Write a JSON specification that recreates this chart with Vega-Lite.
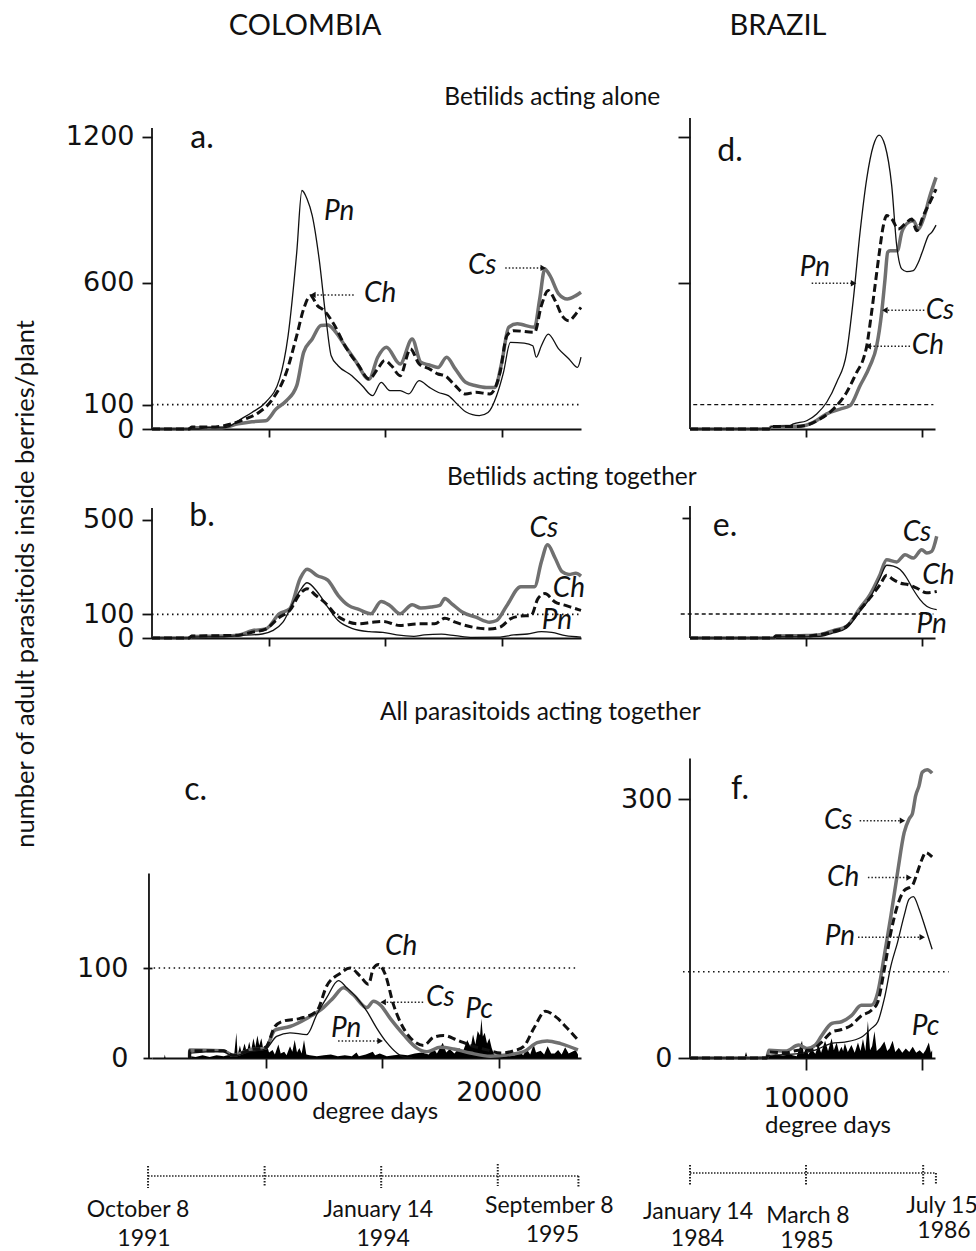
{
  "$schema": "https://vega.github.io/schema/vega-lite/v6.json",
  "padding": {"left": 13, "top": 12, "right": 5, "bottom": 0},
  "background": "white",
  "config": {
    "view": {"stroke": null},
    "line": {"interpolate": "monotone"},
    "axis": {"grid": false, "domainColor": "#111", "tickColor": "#111", "labelColor": "#111", "labelFont": "DejaVu Sans", "labelFontSize": 27, "domainWidth": 1.8, "tickWidth": 1.8, "labelFlush": false, "labelOverlap": false, "format": "d"}
  },
  "datasets": {
    "A": [
      {"s":"Pn","dd":5000,"v":0},{"s":"Pn","dd":7000,"v":0},{"s":"Pn","dd":7300,"v":6},{"s":"Pn","dd":8000,"v":5},{"s":"Pn","dd":8300,"v":10},{"s":"Pn","dd":8695,"v":34},{"s":"Pn","dd":9286,"v":68},{"s":"Pn","dd":9877,"v":110},{"s":"Pn","dd":10469,"v":205},{"s":"Pn","dd":10838,"v":384},{"s":"Pn","dd":11208,"v":726},{"s":"Pn","dd":11430,"v":980},{"s":"Pn","dd":11651,"v":945},{"s":"Pn","dd":11873,"v":877},{"s":"Pn","dd":12168,"v":699},{"s":"Pn","dd":12464,"v":452},{"s":"Pn","dd":12686,"v":301},{"s":"Pn","dd":12981,"v":260},{"s":"Pn","dd":13572,"v":219},{"s":"Pn","dd":14016,"v":178},{"s":"Pn","dd":14459,"v":137},{"s":"Pn","dd":14829,"v":192},{"s":"Pn","dd":15198,"v":158},{"s":"Pn","dd":15642,"v":158},{"s":"Pn","dd":16011,"v":144},{"s":"Pn","dd":16455,"v":199},{"s":"Pn","dd":16898,"v":171},{"s":"Pn","dd":17267,"v":151},{"s":"Pn","dd":17711,"v":137},{"s":"Pn","dd":18154,"v":96},{"s":"Pn","dd":18450,"v":71},{"s":"Pn","dd":19041,"v":55},{"s":"Pn","dd":19411,"v":68},{"s":"Pn","dd":19780,"v":137},{"s":"Pn","dd":20076,"v":233},{"s":"Pn","dd":20371,"v":356},{"s":"Pn","dd":20962,"v":353},{"s":"Pn","dd":21332,"v":342},{"s":"Pn","dd":21480,"v":295},{"s":"Pn","dd":21701,"v":342},{"s":"Pn","dd":21997,"v":390},{"s":"Pn","dd":22440,"v":329},{"s":"Pn","dd":22884,"v":288},{"s":"Pn","dd":23253,"v":253},{"s":"Pn","dd":23400,"v":295},
      {"s":"Ch","dd":5000,"v":0},{"s":"Ch","dd":6600,"v":0},{"s":"Ch","dd":6700,"v":8},{"s":"Ch","dd":7500,"v":8},{"s":"Ch","dd":8000,"v":12},{"s":"Ch","dd":8399,"v":21},{"s":"Ch","dd":8990,"v":41},{"s":"Ch","dd":9582,"v":68},{"s":"Ch","dd":10173,"v":123},{"s":"Ch","dd":10764,"v":233},{"s":"Ch","dd":11208,"v":384},{"s":"Ch","dd":11503,"v":493},{"s":"Ch","dd":11799,"v":548},{"s":"Ch","dd":12094,"v":507},{"s":"Ch","dd":12390,"v":486},{"s":"Ch","dd":12833,"v":425},{"s":"Ch","dd":13277,"v":342},{"s":"Ch","dd":13868,"v":260},{"s":"Ch","dd":14311,"v":205},{"s":"Ch","dd":14681,"v":247},{"s":"Ch","dd":14977,"v":281},{"s":"Ch","dd":15272,"v":260},{"s":"Ch","dd":15642,"v":219},{"s":"Ch","dd":16085,"v":329},{"s":"Ch","dd":16455,"v":267},{"s":"Ch","dd":16898,"v":247},{"s":"Ch","dd":17267,"v":226},{"s":"Ch","dd":17563,"v":219},{"s":"Ch","dd":18006,"v":178},{"s":"Ch","dd":18450,"v":144},{"s":"Ch","dd":18893,"v":151},{"s":"Ch","dd":19484,"v":144},{"s":"Ch","dd":19928,"v":233},{"s":"Ch","dd":20223,"v":384},{"s":"Ch","dd":20519,"v":404},{"s":"Ch","dd":21406,"v":397},{"s":"Ch","dd":21701,"v":507},{"s":"Ch","dd":21997,"v":569},{"s":"Ch","dd":22293,"v":527},{"s":"Ch","dd":22588,"v":466},{"s":"Ch","dd":22884,"v":445},{"s":"Ch","dd":23179,"v":473},{"s":"Ch","dd":23400,"v":500},
      {"s":"Cs","dd":5000,"v":0},{"s":"Cs","dd":6600,"v":0},{"s":"Cs","dd":6700,"v":5},{"s":"Cs","dd":8000,"v":5},{"s":"Cs","dd":8695,"v":21},{"s":"Cs","dd":9286,"v":30},{"s":"Cs","dd":9877,"v":34},{"s":"Cs","dd":10321,"v":82},{"s":"Cs","dd":10764,"v":116},{"s":"Cs","dd":11208,"v":178},{"s":"Cs","dd":11503,"v":315},{"s":"Cs","dd":11873,"v":370},{"s":"Cs","dd":12242,"v":425},{"s":"Cs","dd":12538,"v":427},{"s":"Cs","dd":12833,"v":404},{"s":"Cs","dd":13277,"v":342},{"s":"Cs","dd":13720,"v":281},{"s":"Cs","dd":14311,"v":205},{"s":"Cs","dd":14681,"v":295},{"s":"Cs","dd":15050,"v":336},{"s":"Cs","dd":15642,"v":267},{"s":"Cs","dd":16159,"v":370},{"s":"Cs","dd":16529,"v":274},{"s":"Cs","dd":16898,"v":263},{"s":"Cs","dd":17267,"v":253},{"s":"Cs","dd":17637,"v":295},{"s":"Cs","dd":18006,"v":247},{"s":"Cs","dd":18450,"v":192},{"s":"Cs","dd":18893,"v":178},{"s":"Cs","dd":19337,"v":171},{"s":"Cs","dd":19706,"v":171},{"s":"Cs","dd":20002,"v":274},{"s":"Cs","dd":20297,"v":418},{"s":"Cs","dd":20667,"v":432},{"s":"Cs","dd":21406,"v":418},{"s":"Cs","dd":21628,"v":534},{"s":"Cs","dd":21849,"v":658},{"s":"Cs","dd":22071,"v":630},{"s":"Cs","dd":22440,"v":555},{"s":"Cs","dd":22810,"v":534},{"s":"Cs","dd":23179,"v":548},{"s":"Cs","dd":23400,"v":562}
    ],
    "B": [
      {"s":"Pn","dd":5000,"v":0},{"s":"Pn","dd":6600,"v":0},{"s":"Pn","dd":6700,"v":4},{"s":"Pn","dd":8000,"v":5},{"s":"Pn","dd":8695,"v":10},{"s":"Pn","dd":9730,"v":17},{"s":"Pn","dd":10173,"v":31},{"s":"Pn","dd":10616,"v":67},{"s":"Pn","dd":11060,"v":152},{"s":"Pn","dd":11355,"v":202},{"s":"Pn","dd":11651,"v":234},{"s":"Pn","dd":12094,"v":195},{"s":"Pn","dd":12538,"v":131},{"s":"Pn","dd":12981,"v":74},{"s":"Pn","dd":13572,"v":41},{"s":"Pn","dd":14311,"v":27},{"s":"Pn","dd":14903,"v":24},{"s":"Pn","dd":15494,"v":13},{"s":"Pn","dd":16233,"v":7},{"s":"Pn","dd":16676,"v":13},{"s":"Pn","dd":17415,"v":16},{"s":"Pn","dd":18006,"v":10},{"s":"Pn","dd":18745,"v":3},{"s":"Pn","dd":19928,"v":4},{"s":"Pn","dd":20519,"v":13},{"s":"Pn","dd":21110,"v":17},{"s":"Pn","dd":21701,"v":27},{"s":"Pn","dd":22145,"v":24},{"s":"Pn","dd":22736,"v":10},{"s":"Pn","dd":23400,"v":4},
      {"s":"Ch","dd":5000,"v":0},{"s":"Ch","dd":6600,"v":0},{"s":"Ch","dd":6700,"v":8},{"s":"Ch","dd":8000,"v":10},{"s":"Ch","dd":8700,"v":12},{"s":"Ch","dd":9286,"v":24},{"s":"Ch","dd":9877,"v":38},{"s":"Ch","dd":10469,"v":88},{"s":"Ch","dd":10912,"v":117},{"s":"Ch","dd":11355,"v":188},{"s":"Ch","dd":11651,"v":209},{"s":"Ch","dd":12020,"v":181},{"s":"Ch","dd":12538,"v":138},{"s":"Ch","dd":12833,"v":103},{"s":"Ch","dd":13277,"v":74},{"s":"Ch","dd":13868,"v":60},{"s":"Ch","dd":14459,"v":67},{"s":"Ch","dd":14903,"v":70},{"s":"Ch","dd":15642,"v":53},{"s":"Ch","dd":16381,"v":60},{"s":"Ch","dd":17119,"v":60},{"s":"Ch","dd":17563,"v":84},{"s":"Ch","dd":18006,"v":67},{"s":"Ch","dd":18745,"v":46},{"s":"Ch","dd":19484,"v":38},{"s":"Ch","dd":19928,"v":46},{"s":"Ch","dd":20371,"v":81},{"s":"Ch","dd":20815,"v":93},{"s":"Ch","dd":21258,"v":95},{"s":"Ch","dd":21554,"v":167},{"s":"Ch","dd":21849,"v":188},{"s":"Ch","dd":22293,"v":152},{"s":"Ch","dd":22736,"v":138},{"s":"Ch","dd":23179,"v":124},{"s":"Ch","dd":23400,"v":117},
      {"s":"Cs","dd":5000,"v":0},{"s":"Cs","dd":6600,"v":0},{"s":"Cs","dd":6700,"v":6},{"s":"Cs","dd":8000,"v":8},{"s":"Cs","dd":8700,"v":12},{"s":"Cs","dd":9286,"v":31},{"s":"Cs","dd":9877,"v":38},{"s":"Cs","dd":10469,"v":103},{"s":"Cs","dd":10912,"v":124},{"s":"Cs","dd":11355,"v":252},{"s":"Cs","dd":11651,"v":291},{"s":"Cs","dd":12094,"v":264},{"s":"Cs","dd":12538,"v":245},{"s":"Cs","dd":12981,"v":181},{"s":"Cs","dd":13425,"v":138},{"s":"Cs","dd":13868,"v":121},{"s":"Cs","dd":14385,"v":103},{"s":"Cs","dd":14829,"v":155},{"s":"Cs","dd":15198,"v":138},{"s":"Cs","dd":15642,"v":103},{"s":"Cs","dd":16159,"v":141},{"s":"Cs","dd":16529,"v":127},{"s":"Cs","dd":16972,"v":131},{"s":"Cs","dd":17341,"v":138},{"s":"Cs","dd":17563,"v":167},{"s":"Cs","dd":17859,"v":145},{"s":"Cs","dd":18302,"v":110},{"s":"Cs","dd":18893,"v":88},{"s":"Cs","dd":19484,"v":67},{"s":"Cs","dd":19780,"v":74},{"s":"Cs","dd":20223,"v":138},{"s":"Cs","dd":20815,"v":217},{"s":"Cs","dd":21406,"v":217},{"s":"Cs","dd":21701,"v":323},{"s":"Cs","dd":21967,"v":395},{"s":"Cs","dd":22293,"v":338},{"s":"Cs","dd":22588,"v":281},{"s":"Cs","dd":22884,"v":269},{"s":"Cs","dd":23179,"v":274},{"s":"Cs","dd":23400,"v":262}
    ],
    "C": [
      {"s":"Pn","dd":6740,"v":0},{"s":"Pn","dd":6748,"v":5.5},{"s":"Pn","dd":8181,"v":7},{"s":"Pn","dd":8611,"v":2},{"s":"Pn","dd":9328,"v":7},{"s":"Pn","dd":10001,"v":10},{"s":"Pn","dd":10474,"v":24},{"s":"Pn","dd":11047,"v":28},{"s":"Pn","dd":11764,"v":26},{"s":"Pn","dd":12194,"v":48},{"s":"Pn","dd":12624,"v":67},{"s":"Pn","dd":13125,"v":86},{"s":"Pn","dd":13484,"v":78},{"s":"Pn","dd":13913,"v":67},{"s":"Pn","dd":14343,"v":52},{"s":"Pn","dd":14773,"v":33},{"s":"Pn","dd":15203,"v":17},{"s":"Pn","dd":15633,"v":5.5},{"s":"Pn","dd":15919,"v":1},{"s":"Pn","dd":16300,"v":0},
      {"s":"Ch","dd":6740,"v":0},{"s":"Ch","dd":6748,"v":8},{"s":"Ch","dd":8181,"v":8},{"s":"Ch","dd":8611,"v":3},{"s":"Ch","dd":9328,"v":9},{"s":"Ch","dd":10001,"v":12},{"s":"Ch","dd":10402,"v":35},{"s":"Ch","dd":10761,"v":41},{"s":"Ch","dd":11478,"v":44},{"s":"Ch","dd":12194,"v":52},{"s":"Ch","dd":12624,"v":80},{"s":"Ch","dd":13197,"v":94},{"s":"Ch","dd":13627,"v":100},{"s":"Ch","dd":14057,"v":91},{"s":"Ch","dd":14415,"v":82},{"s":"Ch","dd":14630,"v":100},{"s":"Ch","dd":14845,"v":104},{"s":"Ch","dd":15132,"v":93},{"s":"Ch","dd":15490,"v":59},{"s":"Ch","dd":15919,"v":33},{"s":"Ch","dd":16349,"v":19},{"s":"Ch","dd":16779,"v":14},{"s":"Ch","dd":17209,"v":23},{"s":"Ch","dd":17639,"v":25},{"s":"Ch","dd":18212,"v":20},{"s":"Ch","dd":18785,"v":14},{"s":"Ch","dd":19502,"v":9},{"s":"Ch","dd":20075,"v":5.5},{"s":"Ch","dd":20648,"v":8},{"s":"Ch","dd":21078,"v":13},{"s":"Ch","dd":21508,"v":33},{"s":"Ch","dd":22009,"v":52},{"s":"Ch","dd":22439,"v":46},{"s":"Ch","dd":22941,"v":33},{"s":"Ch","dd":23400,"v":20},
      {"s":"Cs","dd":6740,"v":0},{"s":"Cs","dd":6748,"v":9},{"s":"Cs","dd":8181,"v":8},{"s":"Cs","dd":8611,"v":3},{"s":"Cs","dd":9328,"v":9},{"s":"Cs","dd":10001,"v":11},{"s":"Cs","dd":10402,"v":31},{"s":"Cs","dd":11047,"v":35},{"s":"Cs","dd":11764,"v":44},{"s":"Cs","dd":12481,"v":56},{"s":"Cs","dd":12911,"v":67},{"s":"Cs","dd":13341,"v":78},{"s":"Cs","dd":13771,"v":70},{"s":"Cs","dd":14343,"v":56},{"s":"Cs","dd":14630,"v":63},{"s":"Cs","dd":14917,"v":59},{"s":"Cs","dd":15346,"v":44},{"s":"Cs","dd":15919,"v":26},{"s":"Cs","dd":16492,"v":11},{"s":"Cs","dd":16922,"v":7},{"s":"Cs","dd":17495,"v":12},{"s":"Cs","dd":18069,"v":10},{"s":"Cs","dd":18785,"v":5.5},{"s":"Cs","dd":19645,"v":2},{"s":"Cs","dd":20505,"v":4},{"s":"Cs","dd":21078,"v":7},{"s":"Cs","dd":21651,"v":17},{"s":"Cs","dd":22081,"v":19},{"s":"Cs","dd":22654,"v":16},{"s":"Cs","dd":23400,"v":9},
      {"s":"Pc","dd":5000,"v":0},{"s":"Pc","dd":5650,"v":0},{"s":"Pc","dd":5680,"v":4},{"s":"Pc","dd":5710,"v":0},{"s":"Pc","dd":6700,"v":0},{"s":"Pc","dd":6800,"v":2},{"s":"Pc","dd":7000,"v":1},{"s":"Pc","dd":7300,"v":3},{"s":"Pc","dd":7600,"v":1},{"s":"Pc","dd":7900,"v":3},{"s":"Pc","dd":8200,"v":2},{"s":"Pc","dd":8500,"v":4},{"s":"Pc","dd":8650,"v":2},{"s":"Pc","dd":8750,"v":28},{"s":"Pc","dd":8800,"v":3},{"s":"Pc","dd":8900,"v":14},{"s":"Pc","dd":8980,"v":5},{"s":"Pc","dd":9100,"v":16},{"s":"Pc","dd":9200,"v":6},{"s":"Pc","dd":9300,"v":18},{"s":"Pc","dd":9380,"v":8},{"s":"Pc","dd":9480,"v":22},{"s":"Pc","dd":9560,"v":12},{"s":"Pc","dd":9650,"v":25},{"s":"Pc","dd":9730,"v":14},{"s":"Pc","dd":9820,"v":22},{"s":"Pc","dd":9900,"v":10},{"s":"Pc","dd":10050,"v":15},{"s":"Pc","dd":10150,"v":6},{"s":"Pc","dd":10300,"v":9},{"s":"Pc","dd":10400,"v":4},{"s":"Pc","dd":10550,"v":15},{"s":"Pc","dd":10650,"v":5},{"s":"Pc","dd":10800,"v":7},{"s":"Pc","dd":10900,"v":3},{"s":"Pc","dd":11050,"v":13},{"s":"Pc","dd":11150,"v":7},{"s":"Pc","dd":11250,"v":20},{"s":"Pc","dd":11350,"v":6},{"s":"Pc","dd":11450,"v":11},{"s":"Pc","dd":11550,"v":5},{"s":"Pc","dd":11650,"v":20},{"s":"Pc","dd":11750,"v":4},{"s":"Pc","dd":11900,"v":3},{"s":"Pc","dd":12200,"v":2},{"s":"Pc","dd":12500,"v":3},{"s":"Pc","dd":12800,"v":4},{"s":"Pc","dd":13100,"v":2},{"s":"Pc","dd":13400,"v":3},{"s":"Pc","dd":13700,"v":2},{"s":"Pc","dd":13900,"v":6},{"s":"Pc","dd":14000,"v":2},{"s":"Pc","dd":14300,"v":4},{"s":"Pc","dd":14600,"v":7},{"s":"Pc","dd":14700,"v":3},{"s":"Pc","dd":14900,"v":5},{"s":"Pc","dd":15200,"v":2},{"s":"Pc","dd":15500,"v":3},{"s":"Pc","dd":15800,"v":4},{"s":"Pc","dd":16100,"v":3},{"s":"Pc","dd":16400,"v":5},{"s":"Pc","dd":16700,"v":6},{"s":"Pc","dd":17000,"v":4},{"s":"Pc","dd":17200,"v":11},{"s":"Pc","dd":17350,"v":5},{"s":"Pc","dd":17600,"v":17},{"s":"Pc","dd":17750,"v":6},{"s":"Pc","dd":17900,"v":10},{"s":"Pc","dd":18100,"v":5},{"s":"Pc","dd":18300,"v":11},{"s":"Pc","dd":18450,"v":6},{"s":"Pc","dd":18650,"v":20},{"s":"Pc","dd":18800,"v":12},{"s":"Pc","dd":18900,"v":26},{"s":"Pc","dd":19000,"v":15},{"s":"Pc","dd":19100,"v":30},{"s":"Pc","dd":19200,"v":25},{"s":"Pc","dd":19260,"v":44},{"s":"Pc","dd":19320,"v":24},{"s":"Pc","dd":19400,"v":28},{"s":"Pc","dd":19500,"v":16},{"s":"Pc","dd":19600,"v":22},{"s":"Pc","dd":19700,"v":11},{"s":"Pc","dd":19800,"v":4},{"s":"Pc","dd":19950,"v":2},{"s":"Pc","dd":20300,"v":2},{"s":"Pc","dd":20700,"v":3},{"s":"Pc","dd":20900,"v":7},{"s":"Pc","dd":21050,"v":3},{"s":"Pc","dd":21200,"v":10},{"s":"Pc","dd":21350,"v":4},{"s":"Pc","dd":21500,"v":15},{"s":"Pc","dd":21600,"v":6},{"s":"Pc","dd":21800,"v":8},{"s":"Pc","dd":21950,"v":4},{"s":"Pc","dd":22100,"v":13},{"s":"Pc","dd":22250,"v":5},{"s":"Pc","dd":22400,"v":5},{"s":"Pc","dd":22550,"v":9},{"s":"Pc","dd":22700,"v":4},{"s":"Pc","dd":22850,"v":12},{"s":"Pc","dd":23000,"v":5},{"s":"Pc","dd":23150,"v":7},{"s":"Pc","dd":23300,"v":9},{"s":"Pc","dd":23400,"v":4}
    ],
    "D": [
      {"s":"Pn","dd":5000,"v":0},{"s":"Pn","dd":8400,"v":0},{"s":"Pn","dd":8500,"v":10},{"s":"Pn","dd":9300,"v":14},{"s":"Pn","dd":9455,"v":21},{"s":"Pn","dd":10030,"v":34},{"s":"Pn","dd":10461,"v":62},{"s":"Pn","dd":10892,"v":110},{"s":"Pn","dd":11323,"v":192},{"s":"Pn","dd":11754,"v":315},{"s":"Pn","dd":12041,"v":534},{"s":"Pn","dd":12329,"v":808},{"s":"Pn","dd":12616,"v":1028},{"s":"Pn","dd":12904,"v":1165},{"s":"Pn","dd":13148,"v":1208},{"s":"Pn","dd":13406,"v":1165},{"s":"Pn","dd":13694,"v":1000},{"s":"Pn","dd":13909,"v":754},{"s":"Pn","dd":14125,"v":658},{"s":"Pn","dd":14341,"v":647},{"s":"Pn","dd":14628,"v":651},{"s":"Pn","dd":14843,"v":685},{"s":"Pn","dd":15059,"v":740},{"s":"Pn","dd":15275,"v":795},{"s":"Pn","dd":15418,"v":808},{"s":"Pn","dd":15605,"v":838},
      {"s":"Ch","dd":5000,"v":0},{"s":"Ch","dd":8400,"v":0},{"s":"Ch","dd":8500,"v":10},{"s":"Ch","dd":9500,"v":10},{"s":"Ch","dd":10030,"v":16},{"s":"Ch","dd":10604,"v":41},{"s":"Ch","dd":11179,"v":82},{"s":"Ch","dd":11754,"v":151},{"s":"Ch","dd":12185,"v":233},{"s":"Ch","dd":12472,"v":288},{"s":"Ch","dd":12616,"v":340},{"s":"Ch","dd":12789,"v":452},{"s":"Ch","dd":12976,"v":589},{"s":"Ch","dd":13162,"v":726},{"s":"Ch","dd":13335,"v":836},{"s":"Ch","dd":13478,"v":877},{"s":"Ch","dd":13694,"v":863},{"s":"Ch","dd":13981,"v":822},{"s":"Ch","dd":14268,"v":843},{"s":"Ch","dd":14556,"v":863},{"s":"Ch","dd":14772,"v":815},{"s":"Ch","dd":15059,"v":877},{"s":"Ch","dd":15346,"v":932},{"s":"Ch","dd":15605,"v":986},
      {"s":"Cs","dd":5000,"v":0},{"s":"Cs","dd":8400,"v":0},{"s":"Cs","dd":8500,"v":8},{"s":"Cs","dd":9800,"v":12},{"s":"Cs","dd":10317,"v":27},{"s":"Cs","dd":10892,"v":62},{"s":"Cs","dd":11467,"v":82},{"s":"Cs","dd":11898,"v":96},{"s":"Cs","dd":12329,"v":178},{"s":"Cs","dd":12760,"v":260},{"s":"Cs","dd":13047,"v":342},{"s":"Cs","dd":13263,"v":480},{"s":"Cs","dd":13406,"v":616},{"s":"Cs","dd":13521,"v":726},{"s":"Cs","dd":13622,"v":733},{"s":"Cs","dd":13938,"v":733},{"s":"Cs","dd":14125,"v":808},{"s":"Cs","dd":14412,"v":849},{"s":"Cs","dd":14628,"v":856},{"s":"Cs","dd":14843,"v":822},{"s":"Cs","dd":15059,"v":863},{"s":"Cs","dd":15346,"v":959},{"s":"Cs","dd":15605,"v":1034}
    ],
    "E": [
      {"s":"Pn","dd":5000,"v":0},{"s":"Pn","dd":8600,"v":0},{"s":"Pn","dd":8700,"v":5},{"s":"Pn","dd":10000,"v":5},{"s":"Pn","dd":10604,"v":7},{"s":"Pn","dd":11179,"v":21},{"s":"Pn","dd":11754,"v":42},{"s":"Pn","dd":12329,"v":111},{"s":"Pn","dd":12760,"v":167},{"s":"Pn","dd":13191,"v":250},{"s":"Pn","dd":13478,"v":303},{"s":"Pn","dd":13766,"v":299},{"s":"Pn","dd":14053,"v":285},{"s":"Pn","dd":14341,"v":250},{"s":"Pn","dd":14628,"v":201},{"s":"Pn","dd":14915,"v":160},{"s":"Pn","dd":15203,"v":132},{"s":"Pn","dd":15634,"v":118},
      {"s":"Ch","dd":5000,"v":0},{"s":"Ch","dd":8600,"v":0},{"s":"Ch","dd":8700,"v":8},{"s":"Ch","dd":10000,"v":8},{"s":"Ch","dd":10604,"v":14},{"s":"Ch","dd":11179,"v":28},{"s":"Ch","dd":11754,"v":49},{"s":"Ch","dd":12329,"v":118},{"s":"Ch","dd":12760,"v":167},{"s":"Ch","dd":13191,"v":222},{"s":"Ch","dd":13478,"v":261},{"s":"Ch","dd":13766,"v":243},{"s":"Ch","dd":14053,"v":229},{"s":"Ch","dd":14412,"v":222},{"s":"Ch","dd":14772,"v":208},{"s":"Ch","dd":15203,"v":188},{"s":"Ch","dd":15634,"v":194},
      {"s":"Cs","dd":5000,"v":0},{"s":"Cs","dd":8600,"v":0},{"s":"Cs","dd":8700,"v":8},{"s":"Cs","dd":10000,"v":10},{"s":"Cs","dd":10604,"v":14},{"s":"Cs","dd":11179,"v":31},{"s":"Cs","dd":11754,"v":49},{"s":"Cs","dd":12329,"v":125},{"s":"Cs","dd":12760,"v":181},{"s":"Cs","dd":13191,"v":264},{"s":"Cs","dd":13478,"v":326},{"s":"Cs","dd":13909,"v":317},{"s":"Cs","dd":14268,"v":347},{"s":"Cs","dd":14628,"v":333},{"s":"Cs","dd":14987,"v":368},{"s":"Cs","dd":15203,"v":354},{"s":"Cs","dd":15418,"v":361},{"s":"Cs","dd":15634,"v":424}
    ],
    "F": [
      {"s":"Cs","dd":5000,"v":0},{"s":"Cs","dd":8300,"v":0},{"s":"Cs","dd":8408,"v":9},{"s":"Cs","dd":9118,"v":8},{"s":"Cs","dd":9686,"v":15},{"s":"Cs","dd":10041,"v":11},{"s":"Cs","dd":10396,"v":15},{"s":"Cs","dd":10680,"v":26},{"s":"Cs","dd":11106,"v":40},{"s":"Cs","dd":11532,"v":42},{"s":"Cs","dd":11958,"v":49},{"s":"Cs","dd":12384,"v":61},{"s":"Cs","dd":12810,"v":61},{"s":"Cs","dd":13094,"v":76},{"s":"Cs","dd":13378,"v":119},{"s":"Cs","dd":13662,"v":165},{"s":"Cs","dd":13946,"v":215},{"s":"Cs","dd":14230,"v":261},{"s":"Cs","dd":14443,"v":277},{"s":"Cs","dd":14585,"v":283},{"s":"Cs","dd":14727,"v":304},{"s":"Cs","dd":14869,"v":315},{"s":"Cs","dd":15011,"v":331},{"s":"Cs","dd":15224,"v":334},{"s":"Cs","dd":15437,"v":330},
      {"s":"Ch","dd":5000,"v":0},{"s":"Ch","dd":8300,"v":0},{"s":"Ch","dd":8408,"v":7},{"s":"Ch","dd":9118,"v":6},{"s":"Ch","dd":9686,"v":9},{"s":"Ch","dd":10200,"v":9},{"s":"Ch","dd":10680,"v":18.5},{"s":"Ch","dd":11106,"v":30},{"s":"Ch","dd":11532,"v":33},{"s":"Ch","dd":11958,"v":38},{"s":"Ch","dd":12384,"v":49},{"s":"Ch","dd":12810,"v":55},{"s":"Ch","dd":13094,"v":65},{"s":"Ch","dd":13378,"v":103},{"s":"Ch","dd":13662,"v":146},{"s":"Ch","dd":13946,"v":177},{"s":"Ch","dd":14230,"v":194},{"s":"Ch","dd":14585,"v":200},{"s":"Ch","dd":14798,"v":215},{"s":"Ch","dd":15011,"v":231},{"s":"Ch","dd":15153,"v":238},{"s":"Ch","dd":15437,"v":233},
      {"s":"Pn","dd":5000,"v":0},{"s":"Pn","dd":8300,"v":0},{"s":"Pn","dd":8408,"v":3},{"s":"Pn","dd":9686,"v":5},{"s":"Pn","dd":10396,"v":9},{"s":"Pn","dd":11106,"v":17},{"s":"Pn","dd":11674,"v":18.5},{"s":"Pn","dd":12384,"v":24},{"s":"Pn","dd":12810,"v":34},{"s":"Pn","dd":13094,"v":42},{"s":"Pn","dd":13378,"v":69},{"s":"Pn","dd":13662,"v":107},{"s":"Pn","dd":13946,"v":134},{"s":"Pn","dd":14230,"v":165},{"s":"Pn","dd":14443,"v":184},{"s":"Pn","dd":14628,"v":187},{"s":"Pn","dd":14869,"v":173},{"s":"Pn","dd":15153,"v":150},{"s":"Pn","dd":15437,"v":126},
      {"s":"Pc","dd":5000,"v":1},{"s":"Pc","dd":6000,"v":1},{"s":"Pc","dd":7350,"v":1},{"s":"Pc","dd":7414,"v":7},{"s":"Pc","dd":7480,"v":1},{"s":"Pc","dd":8400,"v":2},{"s":"Pc","dd":8700,"v":4},{"s":"Pc","dd":9000,"v":3},{"s":"Pc","dd":9300,"v":4},{"s":"Pc","dd":9600,"v":2},{"s":"Pc","dd":9828,"v":20},{"s":"Pc","dd":9900,"v":5},{"s":"Pc","dd":10000,"v":12},{"s":"Pc","dd":10100,"v":4},{"s":"Pc","dd":10250,"v":10},{"s":"Pc","dd":10400,"v":5},{"s":"Pc","dd":10538,"v":15},{"s":"Pc","dd":10650,"v":6},{"s":"Pc","dd":10822,"v":20},{"s":"Pc","dd":10950,"v":8},{"s":"Pc","dd":11106,"v":23},{"s":"Pc","dd":11200,"v":9},{"s":"Pc","dd":11320,"v":18},{"s":"Pc","dd":11420,"v":7},{"s":"Pc","dd":11530,"v":13},{"s":"Pc","dd":11600,"v":8},{"s":"Pc","dd":11674,"v":17},{"s":"Pc","dd":11800,"v":7},{"s":"Pc","dd":11958,"v":15},{"s":"Pc","dd":12100,"v":6},{"s":"Pc","dd":12240,"v":18},{"s":"Pc","dd":12350,"v":8},{"s":"Pc","dd":12455,"v":22},{"s":"Pc","dd":12560,"v":8},{"s":"Pc","dd":12668,"v":43},{"s":"Pc","dd":12760,"v":9},{"s":"Pc","dd":12850,"v":14},{"s":"Pc","dd":12952,"v":31},{"s":"Pc","dd":13050,"v":8},{"s":"Pc","dd":13200,"v":12},{"s":"Pc","dd":13378,"v":19},{"s":"Pc","dd":13500,"v":8},{"s":"Pc","dd":13600,"v":11},{"s":"Pc","dd":13733,"v":20},{"s":"Pc","dd":13850,"v":7},{"s":"Pc","dd":14000,"v":12},{"s":"Pc","dd":14150,"v":6},{"s":"Pc","dd":14300,"v":11},{"s":"Pc","dd":14450,"v":7},{"s":"Pc","dd":14600,"v":13},{"s":"Pc","dd":14750,"v":6},{"s":"Pc","dd":14900,"v":9},{"s":"Pc","dd":15050,"v":5},{"s":"Pc","dd":15150,"v":9},{"s":"Pc","dd":15295,"v":18},{"s":"Pc","dd":15380,"v":6},{"s":"Pc","dd":15437,"v":9}
    ]
  },
  "columns": 2,
  "spacing": {"row": 10, "column": 109},
  "align": "each",
  "bounds": "flush",
  "concat": [
    {
      "width": 429, "height": 311,
      "encoding": {
        "x": {"field": "dd", "type": "quantitative", "scale": {"domain": [5000, 23400], "nice": false, "zero": false}, "axis": {"values": [10000, 15000, 20000], "labels": false, "tickSize": 8, "title": null}},
        "y": {"field": "v", "type": "quantitative", "scale": {"domain": [0, 1278], "nice": false}, "axis": {"values": [0, 100, 600, 1200], "domain": false, "tickSize": 10, "labelPadding": 8, "title": null}}
      },
      "layer": [
        {"data": {"values": [{"dd": 5000, "v": 0, "v2": 1237}]}, "mark": {"type": "rule", "color": "#111", "strokeWidth": 1.8}, "encoding": {"y2": {"field": "v2"}}},
        {"data": {"values": [{"dd": 5000, "dd2": 23400, "v": 100}]}, "mark": {"type": "rule", "color": "#111", "strokeWidth": 1.6, "strokeDash": [1.5, 3.5]}, "encoding": {"x2": {"field": "dd2"}}},
        {"data": {"name": "A"}, "transform": [{"filter": "datum.s === 'Cs'"}], "mark": {"type": "line", "color": "#707070", "strokeWidth": 3.5}},
        {"data": {"name": "A"}, "transform": [{"filter": "datum.s === 'Ch'"}], "mark": {"type": "line", "color": "#111", "strokeWidth": 3, "strokeDash": [8, 4]}},
        {"data": {"name": "A"}, "transform": [{"filter": "datum.s === 'Pn'"}], "mark": {"type": "line", "color": "#111", "strokeWidth": 1.3}},
        {"data": {"values": [{"dd": 13650, "dd2": 11900, "v": 551, "dir": "l"}, {"dd": 20150, "dd2": 21780, "v": 662, "dir": "r"}]}, "mark": {"type": "rule", "color": "#222", "strokeWidth": 1.5, "strokeDash": [1.5, 2]}, "encoding": {"x2": {"field": "dd2"}}},
        {"data": {"values": [{"dd": 13650, "dd2": 11900, "v": 551, "dir": "l"}, {"dd": 20150, "dd2": 21780, "v": 662, "dir": "r"}]}, "mark": {"type": "point", "filled": true, "color": "#111", "size": 40, "opacity": 1}, "encoding": {"x": {"field": "dd2", "type": "quantitative"}, "shape": {"field": "dir", "type": "nominal", "scale": {"domain": ["l", "r"], "range": ["triangle-left", "triangle-right"]}, "legend": null}}},
        {"data": {"values": [{"t": "Pn", "dd": 13026, "v": 892}, {"t": "Ch", "dd": 14786, "v": 555}, {"t": "Cs", "dd": 19164, "v": 670}]}, "mark": {"type": "text", "font": "Lato", "fontStyle": "italic", "fontSize": 28, "color": "#111"}, "encoding": {"text": {"field": "t"}}},
        {"data": {"values": [{"t": "a.", "dd": 7143, "v": 1195}]}, "mark": {"type": "text", "font": "Lato", "fontSize": 32, "color": "#111"}, "encoding": {"text": {"field": "t"}}},
        {"data": {"values": [{"t": "COLOMBIA", "dd": 11567, "v": 1655}]}, "mark": {"type": "text", "font": "Lato", "fontSize": 29, "color": "#111"}, "encoding": {"text": {"field": "t"}}},
        {"data": {"values": [{"t": "Betilids acting alone", "dd": 22168, "v": 1360}]}, "mark": {"type": "text", "font": "Lato", "fontSize": 24.5, "color": "#111"}, "encoding": {"text": {"field": "t"}}}
      ]
    },
    {
      "width": 245, "height": 311,
      "encoding": {
        "x": {"field": "dd", "type": "quantitative", "scale": {"domain": [5000, 15560], "nice": false, "zero": false}, "axis": {"values": [10000, 15000], "labels": false, "tickSize": 8, "title": null}},
        "y": {"field": "v", "type": "quantitative", "scale": {"domain": [0, 1278], "nice": false}, "axis": {"values": [600, 1200], "labels": false, "domain": false, "tickSize": 12, "title": null}}
      },
      "layer": [
        {"data": {"values": [{"dd": 5000, "v": 0, "v2": 1278}]}, "mark": {"type": "rule", "color": "#111", "strokeWidth": 1.8}, "encoding": {"y2": {"field": "v2"}}},
        {"data": {"values": [{"dd": 5140, "dd2": 15490, "v": 100}]}, "mark": {"type": "rule", "color": "#111", "strokeWidth": 1.4, "strokeDash": [4, 3]}, "encoding": {"x2": {"field": "dd2"}}},
        {"data": {"name": "D"}, "transform": [{"filter": "datum.s === 'Cs'"}], "mark": {"type": "line", "color": "#707070", "strokeWidth": 3.5}},
        {"data": {"name": "D"}, "transform": [{"filter": "datum.s === 'Ch'"}], "mark": {"type": "line", "color": "#111", "strokeWidth": 3, "strokeDash": [8, 4]}},
        {"data": {"name": "D"}, "transform": [{"filter": "datum.s === 'Pn'"}], "mark": {"type": "line", "color": "#111", "strokeWidth": 1.3}},
        {"data": {"values": [{"dd": 10245, "dd2": 12050, "v": 599, "dir": "r"}, {"dd": 15100, "dd2": 13400, "v": 488, "dir": "l"}, {"dd": 14482, "dd2": 12680, "v": 340, "dir": "l"}]}, "mark": {"type": "rule", "color": "#222", "strokeWidth": 1.5, "strokeDash": [1.5, 2]}, "encoding": {"x2": {"field": "dd2"}}},
        {"data": {"values": [{"dd": 10245, "dd2": 12050, "v": 599, "dir": "r"}, {"dd": 15100, "dd2": 13400, "v": 488, "dir": "l"}, {"dd": 14482, "dd2": 12680, "v": 340, "dir": "l"}]}, "mark": {"type": "point", "filled": true, "color": "#111", "size": 40, "opacity": 1}, "encoding": {"x": {"field": "dd2", "type": "quantitative"}, "shape": {"field": "dir", "type": "nominal", "scale": {"domain": ["l", "r"], "range": ["triangle-left", "triangle-right"]}, "legend": null}}},
        {"data": {"values": [{"t": "Pn", "dd": 10388, "v": 662}, {"t": "Cs", "dd": 15775, "v": 485}, {"t": "Ch", "dd": 15258, "v": 341}]}, "mark": {"type": "text", "font": "Lato", "fontStyle": "italic", "fontSize": 28, "color": "#111"}, "encoding": {"text": {"field": "t"}}},
        {"data": {"values": [{"t": "d.", "dd": 6724, "v": 1143}]}, "mark": {"type": "text", "font": "Lato", "fontSize": 32, "color": "#111"}, "encoding": {"text": {"field": "t"}}},
        {"data": {"values": [{"t": "BRAZIL", "dd": 8793, "v": 1655}]}, "mark": {"type": "text", "font": "Lato", "fontSize": 29, "color": "#111"}, "encoding": {"text": {"field": "t"}}}
      ]
    },
    {
      "width": 429, "height": 199,
      "encoding": {
        "x": {"field": "dd", "type": "quantitative", "scale": {"domain": [5000, 23400], "nice": false, "zero": false}, "axis": {"values": [10000, 15000, 20000], "labels": false, "tickSize": 8, "title": null}},
        "y": {"field": "v", "type": "quantitative", "scale": {"domain": [0, 843], "nice": false}, "axis": {"values": [0, 100, 500], "domain": false, "tickSize": 10, "labelPadding": 8, "title": null}}
      },
      "layer": [
        {"data": {"values": [{"dd": 5000, "v": 0, "v2": 551}]}, "mark": {"type": "rule", "color": "#111", "strokeWidth": 1.8}, "encoding": {"y2": {"field": "v2"}}},
        {"data": {"values": [{"dd": 5000, "dd2": 23400, "v": 100}]}, "mark": {"type": "rule", "color": "#111", "strokeWidth": 1.6, "strokeDash": [1.5, 3.5]}, "encoding": {"x2": {"field": "dd2"}}},
        {"data": {"name": "B"}, "transform": [{"filter": "datum.s === 'Cs'"}], "mark": {"type": "line", "color": "#707070", "strokeWidth": 3.5}},
        {"data": {"name": "B"}, "transform": [{"filter": "datum.s === 'Ch'"}], "mark": {"type": "line", "color": "#111", "strokeWidth": 3, "strokeDash": [8, 4]}},
        {"data": {"name": "B"}, "transform": [{"filter": "datum.s === 'Pn'"}], "mark": {"type": "line", "color": "#111", "strokeWidth": 1.3}},
        {"data": {"values": [{"t": "Cs", "dd": 21809, "v": 462}, {"t": "Ch", "dd": 22886, "v": 206}, {"t": "Pn", "dd": 22370, "v": 72}]}, "mark": {"type": "text", "font": "Lato", "fontStyle": "italic", "fontSize": 28, "color": "#111"}, "encoding": {"text": {"field": "t"}}},
        {"data": {"values": [{"t": "b.", "dd": 7146, "v": 517}]}, "mark": {"type": "text", "font": "Lato", "fontSize": 32, "color": "#111"}, "encoding": {"text": {"field": "t"}}},
        {"data": {"values": [{"t": "Betilids acting together", "dd": 23005, "v": 676}]}, "mark": {"type": "text", "font": "Lato", "fontSize": 24.5, "color": "#111"}, "encoding": {"text": {"field": "t"}}},
        {"data": {"values": [{"t": "number of adult parasitoids inside berries/plant", "dd": -408, "v": 229}]}, "mark": {"type": "text", "font": "Lato", "fontSize": 25.5, "angle": 270, "color": "#111"}, "encoding": {"text": {"field": "t"}}}
      ]
    },
    {
      "width": 245, "height": 199,
      "encoding": {
        "x": {"field": "dd", "type": "quantitative", "scale": {"domain": [5000, 15560], "nice": false, "zero": false}, "axis": {"values": [10000, 15000], "labels": false, "tickSize": 8, "title": null}},
        "y": {"field": "v", "type": "quantitative", "scale": {"domain": [0, 829], "nice": false}, "axis": {"values": [500], "labels": false, "domain": false, "tickSize": 8, "title": null}}
      },
      "layer": [
        {"data": {"values": [{"dd": 5000, "v": 0, "v2": 550}]}, "mark": {"type": "rule", "color": "#111", "strokeWidth": 1.8}, "encoding": {"y2": {"field": "v2"}}},
        {"data": {"values": [{"dd": 4600, "dd2": 15490, "v": 100}]}, "mark": {"type": "rule", "color": "#111", "strokeWidth": 1.4, "strokeDash": [4, 3]}, "encoding": {"x2": {"field": "dd2"}}},
        {"data": {"name": "E"}, "transform": [{"filter": "datum.s === 'Cs'"}], "mark": {"type": "line", "color": "#707070", "strokeWidth": 3.5}},
        {"data": {"name": "E"}, "transform": [{"filter": "datum.s === 'Ch'"}], "mark": {"type": "line", "color": "#111", "strokeWidth": 3, "strokeDash": [8, 4]}},
        {"data": {"name": "E"}, "transform": [{"filter": "datum.s === 'Pn'"}], "mark": {"type": "line", "color": "#111", "strokeWidth": 1.3}},
        {"data": {"values": [{"t": "Cs", "dd": 14784, "v": 437}, {"t": "Ch", "dd": 15706, "v": 257}, {"t": "Pn", "dd": 15418, "v": 56}]}, "mark": {"type": "text", "font": "Lato", "fontStyle": "italic", "fontSize": 28, "color": "#111"}, "encoding": {"text": {"field": "t"}}},
        {"data": {"values": [{"t": "e.", "dd": 6508, "v": 467}]}, "mark": {"type": "text", "font": "Lato", "fontSize": 32, "color": "#111"}, "encoding": {"text": {"field": "t"}}}
      ]
    },
    {
      "width": 429, "height": 410,
      "encoding": {
        "x": {"field": "dd", "type": "quantitative", "scale": {"domain": [5130, 23530], "nice": false, "zero": false}, "axis": {"values": [10000, 15000, 20000], "format": "d", "labelExpr": "datum.value == 15000 ? '' : datum.label", "tickSize": 10, "labelPadding": 11, "title": null}},
        "y": {"field": "v", "type": "quantitative", "scale": {"domain": [0, 455.6], "nice": false}, "axis": {"values": [0, 100], "domain": false, "tickSize": 9, "labelPadding": 15, "title": null}}
      },
      "layer": [
        {"data": {"values": [{"dd": 5000, "v": 0, "v2": 205}]}, "mark": {"type": "rule", "color": "#111", "strokeWidth": 1.8}, "encoding": {"y2": {"field": "v2"}}},
        {"data": {"values": [{"dd": 5200, "dd2": 23400, "v": 100}]}, "mark": {"type": "rule", "color": "#111", "strokeWidth": 1.6, "strokeDash": [1.5, 3.5]}, "encoding": {"x2": {"field": "dd2"}}},
        {"data": {"name": "C"}, "transform": [{"filter": "datum.s === 'Pc'"}], "mark": {"type": "area", "color": "#000", "opacity": 1}},
        {"data": {"name": "C"}, "transform": [{"filter": "datum.s === 'Cs'"}], "mark": {"type": "line", "color": "#707070", "strokeWidth": 3.5}},
        {"data": {"name": "C"}, "transform": [{"filter": "datum.s === 'Ch'"}], "mark": {"type": "line", "color": "#111", "strokeWidth": 3, "strokeDash": [8, 4]}},
        {"data": {"name": "C"}, "transform": [{"filter": "datum.s === 'Pn'"}], "mark": {"type": "line", "color": "#111", "strokeWidth": 1.3}},
        {"data": {"values": [{"dd": 16760, "dd2": 15043, "v": 62, "dir": "l"}, {"dd": 13112, "dd2": 14915, "v": 19, "dir": "r"}]}, "mark": {"type": "rule", "color": "#222", "strokeWidth": 1.5, "strokeDash": [1.5, 2]}, "encoding": {"x2": {"field": "dd2"}}},
        {"data": {"values": [{"dd": 16760, "dd2": 15043, "v": 62, "dir": "l"}, {"dd": 13112, "dd2": 14915, "v": 19, "dir": "r"}]}, "mark": {"type": "point", "filled": true, "color": "#111", "size": 40, "opacity": 1}, "encoding": {"x": {"field": "dd2", "type": "quantitative"}, "shape": {"field": "dir", "type": "nominal", "scale": {"domain": ["l", "r"], "range": ["triangle-left", "triangle-right"]}, "legend": null}}},
        {"data": {"values": [{"t": "Ch", "dd": 15816, "v": 123}, {"t": "Cs", "dd": 17500, "v": 67}, {"t": "Pc", "dd": 19164, "v": 53}, {"t": "Pn", "dd": 13455, "v": 32}]}, "mark": {"type": "text", "font": "Lato", "fontStyle": "italic", "fontSize": 28, "color": "#111"}, "encoding": {"text": {"field": "t"}}},
        {"data": {"values": [{"t": "c.", "dd": 7000, "v": 298}]}, "mark": {"type": "text", "font": "Lato", "fontSize": 32, "color": "#111"}, "encoding": {"text": {"field": "t"}}},
        {"data": {"values": [{"t": "All parasitoids acting together", "dd": 21782, "v": 383}]}, "mark": {"type": "text", "font": "Lato", "fontSize": 24.5, "color": "#111"}, "encoding": {"text": {"field": "t"}}},
        {"data": {"values": [{"t": "degree days", "dd": 14700, "v": -60}]}, "mark": {"type": "text", "font": "Lato", "fontSize": 24, "color": "#111"}, "encoding": {"text": {"field": "t"}}}
      ]
    },
    {
      "width": 245, "height": 410,
      "encoding": {
        "x": {"field": "dd", "type": "quantitative", "scale": {"domain": [5000, 15560], "nice": false, "zero": false}, "axis": {"values": [10000, 15000], "format": "d", "labelExpr": "datum.value == 15000 ? '' : datum.label", "tickSize": 12, "labelPadding": 15, "title": null}},
        "y": {"field": "v", "type": "quantitative", "scale": {"domain": [0, 475], "nice": false}, "axis": {"values": [0, 300], "domain": false, "tickSize": 12, "labelPadding": 6, "title": null}}
      },
      "layer": [
        {"data": {"values": [{"dd": 5000, "v": 0, "v2": 347}]}, "mark": {"type": "rule", "color": "#111", "strokeWidth": 1.8}, "encoding": {"y2": {"field": "v2"}}},
        {"data": {"values": [{"dd": 4700, "dd2": 16150, "v": 100}]}, "mark": {"type": "rule", "color": "#111", "strokeWidth": 1.6, "strokeDash": [1.5, 3.5]}, "encoding": {"x2": {"field": "dd2"}}},
        {"data": {"name": "F"}, "transform": [{"filter": "datum.s === 'Pc'"}], "mark": {"type": "area", "color": "#000", "opacity": 1}},
        {"data": {"name": "F"}, "transform": [{"filter": "datum.s === 'Cs'"}], "mark": {"type": "line", "color": "#707070", "strokeWidth": 3.5}},
        {"data": {"name": "F"}, "transform": [{"filter": "datum.s === 'Ch'"}], "mark": {"type": "line", "color": "#111", "strokeWidth": 3, "strokeDash": [8, 4]}},
        {"data": {"name": "F"}, "transform": [{"filter": "datum.s === 'Pn'"}], "mark": {"type": "line", "color": "#111", "strokeWidth": 1.3}},
        {"data": {"values": [{"dd": 12313, "dd2": 14159, "v": 275, "dir": "r"}, {"dd": 12668, "dd2": 14443, "v": 209, "dir": "r"}, {"dd": 12242, "dd2": 15011, "v": 140, "dir": "r"}]}, "mark": {"type": "rule", "color": "#222", "strokeWidth": 1.5, "strokeDash": [1.5, 2]}, "encoding": {"x2": {"field": "dd2"}}},
        {"data": {"values": [{"dd": 12313, "dd2": 14159, "v": 275, "dir": "r"}, {"dd": 12668, "dd2": 14443, "v": 209, "dir": "r"}, {"dd": 12242, "dd2": 15011, "v": 140, "dir": "r"}]}, "mark": {"type": "point", "filled": true, "color": "#111", "size": 40, "opacity": 1}, "encoding": {"x": {"field": "dd2", "type": "quantitative"}, "shape": {"field": "dir", "type": "nominal", "scale": {"domain": ["l", "r"], "range": ["triangle-left", "triangle-right"]}, "legend": null}}},
        {"data": {"values": [{"t": "Cs", "dd": 11390, "v": 275}, {"t": "Ch", "dd": 11603, "v": 209}, {"t": "Pn", "dd": 11461, "v": 140}, {"t": "Pc", "dd": 15153, "v": 36}]}, "mark": {"type": "text", "font": "Lato", "fontStyle": "italic", "fontSize": 28, "color": "#111"}, "encoding": {"text": {"field": "t"}}},
        {"data": {"values": [{"t": "f.", "dd": 7155, "v": 312}]}, "mark": {"type": "text", "font": "Lato", "fontSize": 32, "color": "#111"}, "encoding": {"text": {"field": "t"}}},
        {"data": {"values": [{"t": "degree days", "dd": 10948, "v": -79}]}, "mark": {"type": "text", "font": "Lato", "fontSize": 24, "color": "#111"}, "encoding": {"text": {"field": "t"}}}
      ]
    },
    {
      "width": 429, "height": 120,
      "encoding": {
        "x": {"field": "dd", "type": "quantitative", "scale": {"domain": [5170, 23570], "nice": false, "zero": false}, "axis": null},
        "y": {"field": "v", "type": "quantitative", "scale": {"domain": [0, 120], "nice": false}, "axis": null}
      },
      "layer": [
        {"data": {"values": [{"dd": 5000, "dd2": 23460, "v": 12}]}, "mark": {"type": "rule", "color": "#222", "strokeWidth": 1.6, "strokeDash": [1.5, 1.5]}, "encoding": {"x2": {"field": "dd2"}}},
        {"data": {"values": [{"dd": 5000, "v": 22, "v2": 0}, {"dd": 10000, "v": 22, "v2": 2}, {"dd": 15000, "v": 22, "v2": 0}, {"dd": 20000, "v": 24, "v2": 2}, {"dd": 23460, "v": 12, "v2": 0}]}, "mark": {"type": "rule", "color": "#222", "strokeWidth": 2, "strokeDash": [1.5, 1.5]}, "encoding": {"y2": {"field": "v2"}}},
        {"data": {"values": [{"t": "October 8", "dd": 4571, "v": -22}, {"t": "1991", "dd": 4828, "v": -51}, {"t": "January 14", "dd": 14872, "v": -22}, {"t": "1994", "dd": 15086, "v": -51}, {"t": "September 8", "dd": 22211, "v": -18}, {"t": "1995", "dd": 22340, "v": -47}]}, "mark": {"type": "text", "font": "Lato", "fontSize": 23, "color": "#111"}, "encoding": {"text": {"field": "t"}}}
      ]
    },
    {
      "width": 245, "height": 120,
      "encoding": {
        "x": {"field": "dd", "type": "quantitative", "scale": {"domain": [5000, 15560], "nice": false, "zero": false}, "axis": null},
        "y": {"field": "v", "type": "quantitative", "scale": {"domain": [0, 120], "nice": false}, "axis": null}
      },
      "layer": [
        {"data": {"values": [{"dd": 5000, "dd2": 15600, "v": 15}]}, "mark": {"type": "rule", "color": "#222", "strokeWidth": 1.6, "strokeDash": [1.5, 1.5]}, "encoding": {"x2": {"field": "dd2"}}},
        {"data": {"values": [{"dd": 5000, "v": 23, "v2": 3}, {"dd": 10000, "v": 23, "v2": 3}, {"dd": 15050, "v": 23, "v2": 3}, {"dd": 15600, "v": 15, "v2": 3}]}, "mark": {"type": "rule", "color": "#222", "strokeWidth": 2, "strokeDash": [1.5, 1.5]}, "encoding": {"y2": {"field": "v2"}}},
        {"data": {"values": [{"t": "January 14", "dd": 5345, "v": -24}, {"t": "1984", "dd": 5323, "v": -51}, {"t": "March 8", "dd": 10086, "v": -28}, {"t": "1985", "dd": 10043, "v": -53}, {"t": "July 15", "dd": 15861, "v": -18}, {"t": "1986", "dd": 15947, "v": -43}]}, "mark": {"type": "text", "font": "Lato", "fontSize": 23, "color": "#111"}, "encoding": {"text": {"field": "t"}}}
      ]
    }
  ]
}
